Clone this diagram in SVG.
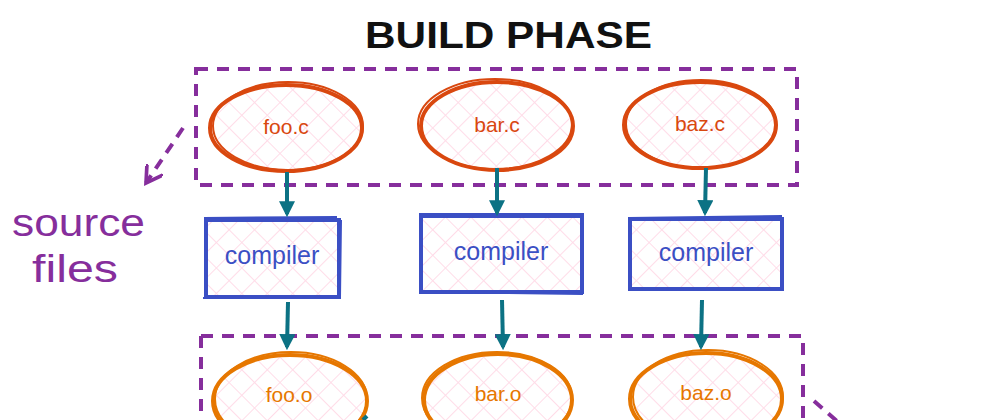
<svg xmlns="http://www.w3.org/2000/svg" width="1000" height="420" viewBox="0 0 1000 420">
<defs>
<pattern id="hatch" patternUnits="userSpaceOnUse" width="18" height="18" patternTransform="rotate(45)">
<line x1="0" y1="0" x2="0" y2="18" stroke="#ffdce8" stroke-width="2"/>
<line x1="0" y1="0" x2="18" y2="0" stroke="#ffdce8" stroke-width="2"/>
</pattern>
<marker id="tealHead" viewBox="0 0 10 10" refX="8" refY="5" markerWidth="4" markerHeight="4" orient="auto">
<path d="M0,0 L10,5 L0,10 Z" fill="#0c7284"/>
</marker>
<marker id="purpleHead" viewBox="0 0 12 12" refX="10" refY="6" markerWidth="5" markerHeight="5" orient="auto">
<path d="M0,0 L10,6 L0,12" fill="none" stroke="#862e9c" stroke-width="2.2" stroke-linecap="round"/>
</marker>
</defs>
<style>
.title{font-family:"Liberation Sans",Arial,sans-serif;font-size:36px;font-weight:bold;fill:#111}
.src{font-family:"Liberation Sans",Arial,sans-serif;font-size:21px;fill:#d9480f;text-anchor:middle}
.obj{font-family:"Liberation Sans",Arial,sans-serif;font-size:21px;fill:#e67700;text-anchor:middle}
.comp{font-family:"Liberation Sans",Arial,sans-serif;font-size:25px;fill:#3b4fc4;text-anchor:middle}
.lbl{font-family:"Liberation Sans",Arial,sans-serif;font-size:38px;fill:#862e9c}
.dash{fill:none;stroke:#862e9c;stroke-width:4;stroke-dasharray:12 9}
.srcE{fill:url(#hatch);stroke:#d9480f;stroke-width:4}
.srcE2{fill:none;stroke:#d9480f;stroke-width:2}
.objE{fill:url(#hatch);stroke:#e67700;stroke-width:4}
.objE2{fill:none;stroke:#e67700;stroke-width:2}
.box{fill:url(#hatch);stroke:#3b4fc4;stroke-width:4}
.box2{fill:none;stroke:#3b4fc4;stroke-width:2}
.arr{fill:none;stroke:#0c7284;stroke-width:4;marker-end:url(#tealHead)}
</style>

<text class="title" x="365" y="48" textLength="287" lengthAdjust="spacingAndGlyphs">BUILD PHASE</text>

<g id="groups">
<rect class="dash" x="196" y="69" width="601" height="116"/>
<path class="dash" d="M201,336 L803,336 L803,420"/>
<path class="dash" d="M201,336 L201,420"/>
</g>

<g id="label-source-files">
<text class="lbl" x="12" y="236" textLength="133" lengthAdjust="spacingAndGlyphs">source</text>
<text class="lbl" x="32" y="282" textLength="86" lengthAdjust="spacingAndGlyphs">files</text>
</g>

<g id="foo-c">
<ellipse class="srcE" cx="286" cy="128" rx="76" ry="43"/>
<ellipse class="srcE2" cx="288" cy="126" rx="75" ry="44"/>
<text class="src" x="286" y="134">foo.c</text>
</g>
<g id="bar-c">
<ellipse class="srcE" cx="497" cy="126" rx="76" ry="44"/>
<ellipse class="srcE2" cx="495" cy="124" rx="77" ry="45"/>
<text class="src" x="497" y="132">bar.c</text>
</g>
<g id="baz-c">
<ellipse class="srcE" cx="700" cy="125" rx="76" ry="43"/>
<ellipse class="srcE2" cx="701" cy="124" rx="75" ry="44"/>
<text class="src" x="700" y="131">baz.c</text>
</g>

<g id="compiler-1">
<rect class="box" x="206" y="220" width="133" height="77"/>
<path class="box2" d="M204,218 L337,217 M341,220 L340,298 M203,298 L338,296 M205,222 L206,296"/>
<text class="comp" x="272" y="264">compiler</text>
</g>
<g id="compiler-2">
<rect class="box" x="421" y="216" width="161" height="76"/>
<path class="box2" d="M419,214 L584,214 M582,214 L583,294 M420,292 L583,294"/>
<text class="comp" x="501" y="260">compiler</text>
</g>
<g id="compiler-3">
<rect class="box" x="630" y="219" width="152" height="70"/>
<path class="box2" d="M629,218 L782,216 M629,290 L783,288"/>
<text class="comp" x="706" y="261">compiler</text>
</g>

<g id="foo-o">
<ellipse class="objE" cx="290" cy="401" rx="77" ry="46"/>
<ellipse class="objE2" cx="291" cy="399" rx="76" ry="47"/>
<text class="obj" x="289" y="402">foo.o</text>
</g>
<g id="bar-o">
<ellipse class="objE" cx="498" cy="400" rx="74" ry="46"/>
<ellipse class="objE2" cx="497" cy="398" rx="75" ry="46"/>
<text class="obj" x="498" y="401">bar.o</text>
</g>
<g id="baz-o">
<ellipse class="objE" cx="706" cy="399" rx="76" ry="46"/>
<ellipse class="objE2" cx="708" cy="397" rx="75" ry="47"/>
<text class="obj" x="706" y="400">baz.o</text>
</g>

<g id="connectors">
<line class="arr" x1="287" y1="172" x2="287" y2="214"/>
<line class="arr" x1="497" y1="168" x2="497" y2="213"/>
<line class="arr" x1="706" y1="168" x2="705" y2="213"/>
<line class="arr" x1="288" y1="302" x2="287" y2="347"/>
<line class="arr" x1="502" y1="300" x2="503" y2="347"/>
<line class="arr" x1="702" y1="300" x2="701" y2="347"/>
<line x1="363" y1="420" x2="367" y2="416" stroke="#0c7284" stroke-width="4"/>
<path d="M183,128 L146,183" fill="none" stroke="#862e9c" stroke-width="4" stroke-dasharray="11 8" marker-end="url(#purpleHead)"/>
<path d="M814,401 L838,422" fill="none" stroke="#862e9c" stroke-width="4" stroke-dasharray="11 8"/>
</g>
</svg>
